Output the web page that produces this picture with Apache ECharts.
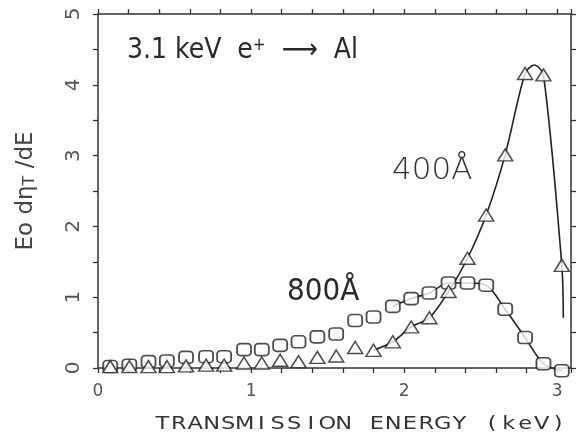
<!DOCTYPE html>
<html>
<head>
<meta charset="utf-8">
<script src="https://cdn.jsdelivr.net/npm/echarts@6/dist/echarts.min.js"></script>
<style>
  html, body { margin: 0; padding: 0; background: #fff; }
  #chart { width: 576px; height: 437px; }
</style>
</head>
<body>
<div id="chart"></div>
<script>
// Transmission energy of each measured channel (keV)
const energy = [0.08, 0.205, 0.33, 0.45, 0.575, 0.706, 0.824, 0.954, 1.07, 1.19,
  1.31, 1.433, 1.556, 1.68, 1.80, 1.926, 2.046, 2.165, 2.29, 2.414,
  2.536, 2.66, 2.79, 2.91, 3.03];
// E0 dηT/dE for the 800 Å foil (circles)
const yield800 = [0.02, 0.04, 0.09, 0.10, 0.15, 0.16, 0.16, 0.26, 0.26, 0.32,
  0.37, 0.44, 0.48, 0.67, 0.72, 0.87, 0.98, 1.06, 1.20, 1.20,
  1.17, 0.83, 0.43, 0.06, -0.04];
// E0 dηT/dE for the 400 Å foil (triangles)
const yield400 = [0.02, 0.02, 0.02, 0.02, 0.03, 0.04, 0.04, 0.07, 0.07, 0.11,
  0.09, 0.15, 0.17, 0.29, 0.25, 0.37, 0.58, 0.71, 1.08, 1.55,
  2.16, 3.01, 4.16, 4.14, 1.45];
// Guide curves start at these channels
const curve800From = 15;
const curve400From = 14;
// Extra guide-curve points for 400 Å: rounded top of the peak and end of the fall-off
const peak400 = [2.85, 4.28];
const tail400 = [3.04, 0.71];
const xTickLabels = ['0', '1', '2', '3'];
const yTickLabels = ['0', '1', '2', '3', '4', '5'];
const xTitle = 'TRANSMISSION ENERGY (keV)';

const ink = '#222';
const axisInk = '#333';

const pts800 = energy.map((e, i) => [e, yield800[i]]);
const pts400 = energy.map((e, i) => [e, yield400[i]]);
const curve800 = pts800.slice(curve800From);
const curve400 = pts400.slice(curve400From, 23).concat([peak400], pts400.slice(23), [tail400]);

function integerLabel(list) {
  return function (v) {
    const r = Math.round(v);
    return Math.abs(v - r) < 1e-6 && list[r] !== undefined ? list[r] : '';
  };
}

const axisCommon = {
  axisLine: { show: true, onZero: false, lineStyle: { color: axisInk, width: 1.5 } },
  axisTick: { show: true, inside: false, length: 5, lineStyle: { color: axisInk, width: 1.3 } },
  splitLine: { show: false }
};

const chart = echarts.init(document.getElementById('chart'));
chart.setOption({
  animation: false,
  backgroundColor: '#fff',
  grid: { left: 98, right: 5, top: 14, bottom: 69 },
  xAxis: [
    Object.assign({
      type: 'value', position: 'bottom', min: 0, max: 3.09, interval: 0.2,
      axisLabel: {
        formatter: integerLabel(xTickLabels), margin: 15,
        fontFamily: 'DejaVu Sans', fontSize: 17, color: '#555',
        showMaxLabel: true, hideOverlap: false
      }
    }, axisCommon),
    Object.assign({
      type: 'value', position: 'top', min: 0, max: 3.09, interval: 0.2,
      axisLabel: { show: false }
    }, axisCommon)
  ],
  yAxis: [
    Object.assign({
      type: 'value', position: 'left', min: 0, max: 5, interval: 0.5,
      axisLabel: {
        formatter: integerLabel(yTickLabels), rotate: 90, margin: 14,
        fontFamily: 'DejaVu Sans', fontSize: 20, color: '#555', hideOverlap: false
      },
      name: '{n|Eo d}{n|η}{s|T}{n| /dE}',
      nameLocation: 'middle',
      nameGap: 60,
      nameTextStyle: {
        rich: {
          n: { fontFamily: 'DejaVu Sans', fontSize: 23, color: '#444' },
          s: { fontFamily: 'DejaVu Sans', fontSize: 16, color: '#444', verticalAlign: 'bottom' }
        }
      }
    }, axisCommon),
    Object.assign({
      type: 'value', position: 'right', min: 0, max: 5, interval: 0.5,
      axisLabel: { show: false }
    }, axisCommon)
  ],
  series: [
    {
      type: 'line', data: curve400, smooth: 0.3, symbol: 'none', clip: false,
      lineStyle: { color: ink, width: 1.6 }, z: 2, silent: true
    },
    {
      type: 'line', data: curve800, smooth: 0.3, symbol: 'none', clip: false,
      lineStyle: { color: ink, width: 1.6 }, z: 2, silent: true
    },
    {
      type: 'scatter', data: pts800, symbol: 'roundRect', symbolSize: [14, 12], clip: false,
      itemStyle: { color: '#fff', borderColor: ink, borderWidth: 1.7 }, z: 3, silent: true
    },
    {
      type: 'scatter', data: pts400, symbol: 'triangle', symbolSize: [15, 12], clip: false,
      itemStyle: { color: '#fff', borderColor: ink, borderWidth: 1.5 }, z: 4, silent: true
    }
  ],
  graphic: [
    {
      type: 'text', x: 127, y: 51, z: 10,
      style: {
        text: '{m|3.1 keV  e}{p|+}{m|  ⟶  Al}',
        verticalAlign: 'middle', align: 'left',
        rich: {
          m: { fontFamily: 'DejaVu Sans Condensed', fontSize: 28, fill: '#2a2a2a' },
          p: { fontFamily: 'DejaVu Sans Condensed', fontSize: 17, fill: '#2a2a2a', padding: [0, 0, 10, 0] }
        }
      }
    },
    {
      type: 'text', x: 392, y: 171, z: 10,
      style: {
        text: '400Å', verticalAlign: 'middle', align: 'left',
        fontFamily: 'DejaVu Sans', fontWeight: 200, fontSize: 31, fill: '#333'
      }
    },
    {
      type: 'text', x: 287, y: 292, z: 10,
      style: {
        text: '800Å', verticalAlign: 'middle', align: 'left',
        fontFamily: 'Liberation Sans Narrow, DejaVu Sans Condensed', fontSize: 31, fill: '#2a2a2a'
      }
    },
    {
      // axis title, glyphs widened horizontally
      type: 'text', x: 154, y: 424, z: 10, scaleX: 1.25,
      style: {
        text: xTitle.split('').map(c => '{c|' + c + '}').join(''),
        verticalAlign: 'middle', align: 'left',
        rich: {
          c: { width: 13.2, align: 'center', fontFamily: 'DejaVu Sans', fontSize: 18, fill: '#333' }
        }
      }
    }
  ]
});
</script>
</body>
</html>
